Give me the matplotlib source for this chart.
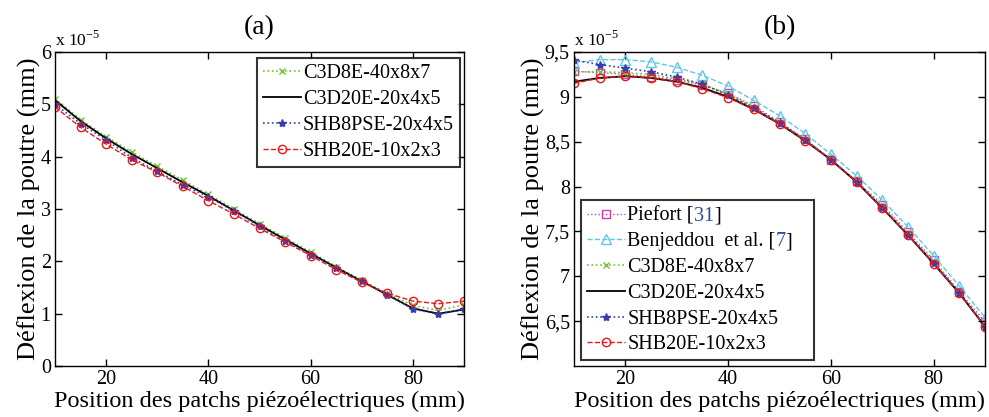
import numpy as np
import matplotlib
matplotlib.use("Agg")
import matplotlib.pyplot as plt
from matplotlib.ticker import FuncFormatter

plt.rcParams['font.family'] = ['Liberation Serif', 'DejaVu Serif']
plt.rcParams['mathtext.fontset'] = 'custom'
plt.rcParams['mathtext.rm'] = 'Liberation Serif'

# positions des patchs (mm)
pos = [10, 15, 20, 25, 30, 35, 40, 45, 50, 55, 60, 65, 70, 75, 80, 85, 90]

# (a) deflexion, x 1e-5 mm
a_c3d8 = [5.11, 4.71, 4.38, 4.09, 3.82, 3.55, 3.28, 3.00, 2.72, 2.45, 2.18, 1.90, 1.64, 1.38, 1.16, 1.06, 1.17]
a_c3d20 = [5.08, 4.68, 4.35, 4.05, 3.78, 3.51, 3.25, 2.97, 2.69, 2.42, 2.15, 1.88, 1.62, 1.36, 1.10, 1.00, 1.08]
a_shb8 = [5.00, 4.63, 4.32, 3.98, 3.72, 3.46, 3.23, 2.96, 2.67, 2.39, 2.13, 1.87, 1.62, 1.36, 1.09, 0.99, 1.09]
a_shb20 = [4.95, 4.56, 4.24, 3.94, 3.70, 3.43, 3.16, 2.90, 2.63, 2.37, 2.11, 1.84, 1.60, 1.39, 1.24, 1.19, 1.24]

# (b) deflexion, x 1e-5 mm
b_piefort = [9.285, 9.27, 9.25, 9.22, 9.19, 9.13, 9.04, 8.90, 8.72, 8.53, 8.30, 8.06, 7.80, 7.49, 7.18, 6.83, 6.49]
b_benj = [9.38, 9.415, 9.415, 9.39, 9.33, 9.24, 9.12, 8.96, 8.79, 8.59, 8.36, 8.12, 7.85, 7.55, 7.23, 6.89, 6.54]
b_c3d8 = [9.28, 9.28, 9.27, 9.25, 9.20, 9.14, 9.03, 8.88, 8.71, 8.52, 8.30, 8.05, 7.78, 7.47, 7.16, 6.81, 6.45]
b_c3d20 = [9.17, 9.21, 9.23, 9.21, 9.17, 9.10, 9.00, 8.86, 8.70, 8.51, 8.30, 8.05, 7.76, 7.46, 7.14, 6.81, 6.44]
b_shb8 = [9.41, 9.36, 9.32, 9.28, 9.22, 9.14, 9.02, 8.88, 8.71, 8.52, 8.30, 8.05, 7.76, 7.46, 7.15, 6.81, 6.44]
b_shb20 = [9.15, 9.21, 9.23, 9.21, 9.17, 9.09, 8.99, 8.86, 8.70, 8.51, 8.30, 8.05, 7.76, 7.46, 7.14, 6.81, 6.44]

# references citees (en bleu)
refs = ['31', '7']

green = '#6cc430'
blue = '#3c3ca8'
red = '#e81818'
magenta = '#cc3fa6'
cyan = '#5ec8e6'

tickSize = 14.5
xlabelSize = 17.5
ylabelSize = 19

fig = plt.figure(figsize=(9.89, 4.17), dpi=100)
ax1 = fig.add_axes([0.0556, 0.1223, 0.4136, 0.753])
ax2 = fig.add_axes([0.5804, 0.1223, 0.4156, 0.753])

ms = 6
ax1.plot(pos, a_c3d8, ':', color=green, marker='x', ms=4, lw=1.2, label='C3D8E-40x8x7')
ax1.plot(pos, a_c3d20, '-', color='k', lw=1.3, label='C3D20E-20x4x5')
ax1.plot(pos, a_shb8, ':', color=blue, marker='*', ms=6, lw=1.2, label='SHB8PSE-20x4x5')
ax1.plot(pos, a_shb20, '--', color=red, marker='o', ms=ms, mfc='none', lw=1.0, label='SHB20E-10x2x3')

ax2.plot(pos, b_piefort, ':', color=magenta, marker='s', ms=ms, mfc='none', lw=1.0, label='Piefort [')
ax2.plot(pos, b_benj, '--', color=cyan, marker='^', ms=7, mfc='none', lw=1.0, label='Benjeddou  et al. [')
ax2.plot(pos, b_c3d8, ':', color=green, marker='x', ms=4, lw=1.2, label='C3D8E-40x8x7')
ax2.plot(pos, b_c3d20, '-', color='k', lw=1.3, label='C3D20E-20x4x5')
ax2.plot(pos, b_shb8, ':', color=blue, marker='*', ms=6, lw=1.2, label='SHB8PSE-20x4x5')
ax2.plot(pos, b_shb20, '--', color=red, marker='o', ms=ms, mfc='none', lw=1.0, label='SHB20E-10x2x3')

ax1.set_xlim(10, 90)
ax1.set_ylim(0, 6)
ax1.set_yticks([0, 1, 2, 3, 4, 5, 6])
ax2.set_xlim(10, 90)
ax2.set_ylim(6.0, 9.5)
ax2.set_yticks([6.5, 7, 7.5, 8, 8.5, 9, 9.5])
ax2.yaxis.set_major_formatter(FuncFormatter(lambda v, p: ('%g' % v).replace('.', ',')))

for ax, t in [(ax1, '(a)'), (ax2, '(b)')]:
    ax.set_xticks([20, 40, 60, 80])
    ax.tick_params(direction='in', top=True, right=True, labelsize=tickSize, length=5, width=1, pad=3)
    for s in ax.spines.values():
        s.set_linewidth(1.0)
    ax.set_xlabel('Position des patchs piézoélectriques (mm)', fontsize=xlabelSize, labelpad=1)
    ax.set_ylabel('Déflexion de la poutre (mm)', fontsize=ylabelSize, labelpad=0)
    ax.set_title(t, fontsize=20, pad=13)
    ax.text(0.0, 1.008, r'x 10$^{-5}$', transform=ax.transAxes, fontsize=12.5, ha='left', va='bottom')

leg1 = ax1.legend(loc='upper right', fontsize=tickSize, frameon=True, fancybox=False,
                  edgecolor='k', handlelength=1.9, borderpad=0.3, labelspacing=0.33,
                  handletextpad=0.1, borderaxespad=0, bbox_to_anchor=(0.99, 0.98))
leg1.get_frame().set_linewidth(1.5)

# legende (b) elargie comme dans l'original
leg2 = ax2.legend(loc='lower left', mode='expand', fontsize=tickSize, frameon=True, fancybox=False,
                  edgecolor='k', handlelength=1.9, borderpad=0.3, labelspacing=0.33,
                  handletextpad=0.1, borderaxespad=0, bbox_to_anchor=(0.017, 0.018, 0.567, 0))
leg2.get_frame().set_linewidth(1.5)

# numeros de reference en bleu apres le "["
refColor = '#2b4ca0'
texts = leg2.get_texts()
for txt, ref in zip(texts[:2], refs):
    a = ax2.annotate(ref, xy=(1, 0), xycoords=txt, fontsize=tickSize, color=refColor,
                     ha='left', va='bottom', zorder=10)
    ax2.annotate(']', xy=(1, 0), xycoords=a, fontsize=tickSize, color='k',
                 ha='left', va='bottom', zorder=11)

fig.savefig('out.png', dpi=100)
